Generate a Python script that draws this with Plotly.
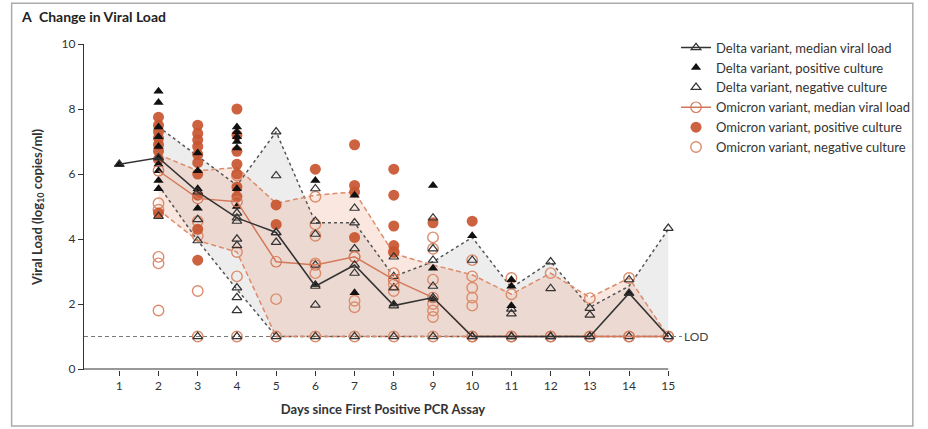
import plotly.graph_objects as go

# ---------------- data ----------------
days = list(range(1, 16))
iqr_days = list(range(2, 16))

delta_median = [6.3, 6.5, 5.45, 4.65, 4.2, 2.55, 3.2, 1.95, 2.2, 1, 1, 1, 1, 2.33, 1]
omicron_median_days = list(range(2, 16))
omicron_median = [6.1, 5.25, 5.15, 3.3, 3.2, 3.45, 2.75, 2.2, 1, 1, 1, 1, 1, 1]

delta_q3 = [7.45, 6.55, 5.65, 7.3, 4.5, 4.5, 2.85, 3.3, 4.05, 2.5, 3.3, 1.9, 2.55, 4.3]
delta_q1 = [5.65, 3.95, 2.45, 1, 1, 1, 1, 1, 1, 1, 1, 1, 1, 1]
omicron_q3 = [6.6, 6.1, 6.2, 5.1, 5.35, 5.45, 3.55, 3.2, 2.9, 2.3, 2.95, 2.2, 2.8, 1]
omicron_q1 = [4.9, 3.95, 3.6, 1, 1, 1, 1, 1, 1, 1, 1, 1, 1, 1]

# individual samples, one list per day (day 1 .. day 15)
delta_positive = [
    [6.3],
    [8.55, 8.2, 7.45, 7.15, 6.85, 6.5, 6.3, 6.1, 5.8, 5.55],
    [6.65, 6.1, 5.55, 4.95],
    [7.45, 7.3, 7.15, 7.0, 6.8, 5.55, 5.0],
    [],
    [5.8, 2.6],
    [5.35, 2.35],
    [2.0],
    [5.65, 3.1, 2.15],
    [4.1],
    [2.75, 2.55, 1.95],
    [],
    [],
    [2.33],
    [],
]
delta_negative = [
    [],
    [4.7],
    [4.6, 3.95, 1],
    [4.8, 4.55, 4.0, 3.8, 2.5, 2.2, 1.8, 1],
    [7.3, 5.95, 4.2, 3.9, 1],
    [5.55, 4.55, 4.15, 3.2, 1.97, 1],
    [4.95, 4.5, 3.7, 2.95, 1],
    [3.45, 2.85, 2.5, 1],
    [4.65, 3.7, 3.35, 2.55, 1],
    [3.35, 1],
    [1.85, 1.7, 1],
    [3.3, 2.48, 1],
    [1.87, 1.66, 1],
    [2.75, 1],
    [4.33, 1],
]
omicron_positive = [
    [],
    [7.75, 7.5, 7.3, 7.1, 6.9, 6.7, 6.45, 4.8],
    [7.5, 7.25, 7.05, 6.85, 6.6, 6.35, 6.0, 5.35, 4.3, 3.35],
    [8.0, 7.2, 6.7, 6.3, 6.0, 5.6, 5.3],
    [5.05, 4.45],
    [6.15],
    [6.9, 5.65, 5.45, 4.05],
    [6.15, 5.35, 4.4, 3.8, 3.6],
    [4.5],
    [4.55],
    [], [], [], [], [],
]
omicron_negative = [
    [],
    [5.1, 4.9, 3.45, 3.25, 1.8],
    [4.55, 4.1, 2.4, 1],
    [5.95, 3.6, 2.85, 1],
    [2.15, 1],
    [5.3, 4.45, 4.1, 3.25, 2.95, 1],
    [3.45, 2.1, 1.9, 1],
    [3.6, 2.95, 2.6, 2.4, 1],
    [4.05, 3.7, 2.75, 2.0, 1.8, 1.6, 1],
    [3.35, 2.85, 2.5, 2.2, 1.95, 1],
    [2.8, 2.3, 1],
    [2.95, 1],
    [2.18, 1],
    [2.8, 1],
    [1],
]
lod = 1.0
x_tick_labels = [str(d) for d in days]
y_ticks = [0, 2, 4, 6, 8, 10]
x_axis_start, x_axis_end = 0.1, 15


def flatten(groups):
    xs, ys = [], []
    for d, vals in zip(days, groups):
        for v in vals:
            xs.append(d)
            ys.append(v)
    return xs, ys


FONT = "Lato, 'Liberation Sans', Arial, sans-serif"
ORANGE = "#c8552f"
ORANGE_LIGHT = "#dc8c6c"

fig = go.Figure()

# IQR bands
fig.add_trace(go.Scatter(
    x=iqr_days + iqr_days[::-1], y=delta_q3 + delta_q1[::-1],
    fill="toself", fillcolor="rgba(150,150,150,0.17)", line=dict(width=0),
    mode="lines", showlegend=False, hoverinfo="skip"))
fig.add_trace(go.Scatter(
    x=iqr_days + iqr_days[::-1], y=omicron_q3 + omicron_q1[::-1],
    fill="toself", fillcolor="rgba(230,150,115,0.22)", line=dict(width=0),
    mode="lines", showlegend=False, hoverinfo="skip"))

# x axis baseline (ends at day 15 like the original)
fig.add_trace(go.Scatter(x=[x_axis_start, x_axis_end], y=[0, 0], mode="lines",
                         line=dict(color="#333333", width=1.2),
                         showlegend=False, hoverinfo="skip"))

# LOD line
fig.add_trace(go.Scatter(x=[x_axis_start, 15.35], y=[lod, lod], mode="lines",
                         line=dict(color="#777777", width=1, dash="4px,3px"),
                         showlegend=False, hoverinfo="skip"))

# IQR lines
for ys in (delta_q3, delta_q1):
    fig.add_trace(go.Scatter(x=iqr_days, y=ys, mode="lines",
                             line=dict(color="#555555", width=1.5, dash="dot"),
                             showlegend=False, hoverinfo="skip"))
for ys in (omicron_q3, omicron_q1):
    fig.add_trace(go.Scatter(x=iqr_days, y=ys, mode="lines",
                             line=dict(color=ORANGE_LIGHT, width=1.5, dash="5px,3px"),
                             showlegend=False, hoverinfo="skip"))

# sample points
x, y = flatten(omicron_negative)
fig.add_trace(go.Scatter(x=x, y=y, mode="markers", name="Omicron variant, negative culture",
                         marker=dict(symbol="circle-open", size=10.5, color=ORANGE_LIGHT,
                                     line=dict(width=1.4)), legendrank=6))
x, y = flatten(omicron_positive)
fig.add_trace(go.Scatter(x=x, y=y, mode="markers", name="Omicron variant, positive culture",
                         marker=dict(symbol="circle", size=11, color=ORANGE, opacity=0.92,
                                     line=dict(width=0)), legendrank=5))
x, y = flatten(delta_negative)
fig.add_trace(go.Scatter(x=x, y=y, mode="markers", name="Delta variant, negative culture",
                         marker=dict(symbol="triangle-up-open", size=8.5, color="#333333",
                                     line=dict(width=1.2)), legendrank=3))
x, y = flatten(delta_positive)
fig.add_trace(go.Scatter(x=x, y=y, mode="markers", name="Delta variant, positive culture",
                         marker=dict(symbol="triangle-up", size=9, color="#111111"),
                         legendrank=2))

# medians
fig.add_trace(go.Scatter(x=omicron_median_days, y=omicron_median, mode="lines+markers",
                         name="Omicron variant, median viral load",
                         line=dict(color="#d4785a", width=1.5),
                         marker=dict(symbol="circle-open", size=10.5, color="#d4785a",
                                     line=dict(width=1.2)), legendrank=4))
fig.add_trace(go.Scatter(x=days, y=delta_median, mode="lines+markers",
                         name="Delta variant, median viral load",
                         line=dict(color="#333333", width=1.6),
                         marker=dict(symbol="triangle-up-open", size=8.5, color="#333333",
                                     line=dict(width=1.2)), legendrank=1))

fig.update_layout(
    width=928, height=429,
    margin=dict(l=84, r=238, t=44, b=59),
    paper_bgcolor="white", plot_bgcolor="white",
    font=dict(family=FONT, size=12, color="#333333"),
    showlegend=True,
    legend=dict(x=0.99, y=1.035, xanchor="left", yanchor="top",
                font=dict(size=13, color="#333333"), itemwidth=30,
                bgcolor="rgba(0,0,0,0)", tracegroupgap=0),
    xaxis=dict(range=[x_axis_start, 15.35], tickvals=days, ticktext=x_tick_labels,
               ticks="outside", ticklen=5, tickcolor="#333333",
               showline=False, showgrid=False, zeroline=False, tickfont=dict(size=12),
               title=dict(text="<b>Days since First Positive PCR Assay</b>",
                          font=dict(size=13), standoff=12)),
    yaxis=dict(range=[-0.03, 10], tickvals=y_ticks,
               ticks="outside", ticklen=5, tickcolor="#333333",
               showline=True, linecolor="#333333", linewidth=1.2,
               showgrid=False, zeroline=False, tickfont=dict(size=12),
               title=dict(text="<b>Viral Load (log<sub>10</sub> copies/ml)</b>",
                          font=dict(size=13), standoff=16)),
    annotations=[
        dict(xref="paper", yref="paper", x=-0.109, y=1.083, xanchor="left", yanchor="middle",
             text="<b>A</b>  <b>Change in Viral Load</b>", showarrow=False,
             font=dict(size=14, color="#222222")),
        dict(xref="x", yref="y", x=15.35, y=lod, xanchor="left", yanchor="middle",
             text="LOD", showarrow=False, font=dict(size=12, color="#444444")),
    ],
    shapes=[
        dict(type="rect", xref="paper", yref="paper", x0=-0.121, x1=1.386, y0=-0.172, y1=1.125,
             line=dict(color="#aaaaaa", width=1.5), fillcolor="rgba(0,0,0,0)", layer="below"),
    ],
)

fig.write_html("out.html", config={"displayModeBar": False},
               post_script="document.body.style.margin='0';document.body.style.padding='0';")
